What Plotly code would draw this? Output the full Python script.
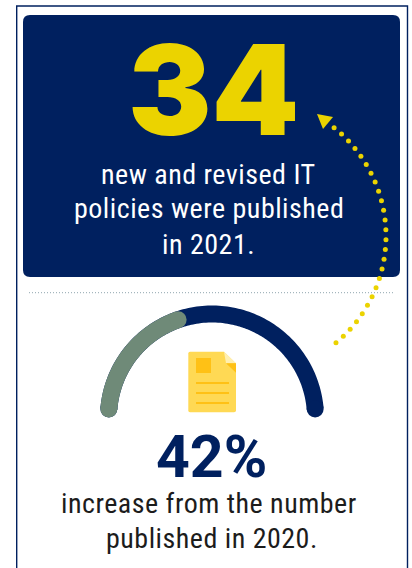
import numpy as np
import plotly.graph_objects as go

# Figures stated in the infographic
policies_2021 = 34
increase_pct = 42
headline_lines = ["new and revised IT", "policies were published", "in 2021."]
caption_lines = ["increase from the number", "published in 2020."]

NAVY = "#00205F"
SAGE = "#6F8A78"
GOLD = "#EBD300"
DOC = "#FFD954"
DOC_DARK = "#FFC115"
DOC_LIGHT = "#FFEFB0"
NARROW = "Roboto Condensed, Liberation Sans Narrow, Roboto"

fig = go.Figure()


def arc(cx, cy, r, a0, a1, n=120):
    t = np.radians(np.linspace(a0, a1, n))
    return cx + r * np.cos(t), cy - r * np.sin(t)


def stroke(x, y, color, width):
    # Thick line with round end caps
    fig.add_trace(go.Scatter(x=x, y=y, mode="lines", line=dict(color=color, width=width, simplify=False),
                             hoverinfo="skip"))
    fig.add_trace(go.Scatter(x=[x[0], x[-1]], y=[y[0], y[-1]], mode="markers",
                             marker=dict(color=color, size=width, line=dict(width=0)), hoverinfo="skip"))


# Gauge: the sweep runs over a half circle, caps included
GX, GY, GR, GW = 212, 417.5, 103.5, 17
cap = np.degrees(GW / 2 / GR)
start, end = 180 - cap, cap
stroke(*arc(GX, GY, GR, start, end), NAVY, GW)
stroke(*arc(GX, GY, GR, start, 180 - 180 * increase_pct / 100 + cap), SAGE, GW)

# Dotted arc leading to the headline number
dx, dy = arc(247, 235, 139, 50.2, -51.2, 26)
dy = 2 * 235.5 - dy
fig.add_trace(go.Scatter(x=dx[::-1], y=dy[::-1], mode="markers",
                         marker=dict(color=GOLD, size=5, line=dict(width=0)), hoverinfo="skip"))

shapes = [
    # Outer frame, open at the bottom
    dict(type="path", path="M16.7,568 L16.7,6 L407.5,6 L407.5,568", line=dict(color=NAVY, width=1.4), layer="below"),
    # Headline panel
    dict(type="path", path="M30,15 L393,15 Q400,15 400,22 L400,270 Q400,277 393,277 L30,277 Q23,277 23,270 L23,22 Q23,15 30,15 Z",
         fillcolor=NAVY, line=dict(width=0), layer="below"),
    # Separator
    dict(type="line", x0=29, x1=394, y0=292.7, y1=292.7, line=dict(color="#8FA6AE", width=1, dash="1px,2px"), layer="below"),
    # Arrow head
    dict(type="path", path="M317,114 L333,117 L323,129 Z", fillcolor=GOLD, line=dict(width=0)),
    # Document icon
    dict(type="path", path="M190,351.7 L224,351.7 L236,363.5 L236,410.5 Q236,412.3 234,412.3 L190,412.3 Q188.3,412.3 188.3,410.5 L188.3,353.5 Q188.3,351.7 190,351.7 Z",
         fillcolor=DOC, line=dict(width=0)),
    dict(type="path", path="M224,351.7 L236,363.3 L226,363.3 Z", fillcolor=DOC_LIGHT, line=dict(width=0)),
    dict(type="path", path="M226,363.3 L236,363.3 L236,372.7 Z", fillcolor=DOC_DARK, line=dict(width=0)),
    dict(type="rect", x0=196, x1=211, y0=358, y1=373, fillcolor=DOC_DARK, line=dict(width=0)),
]
for ly in (383, 393, 403):
    shapes.append(dict(type="rect", x0=196, x1=229, y0=ly - 1, y1=ly + 1, fillcolor=DOC_DARK, line=dict(width=0)))


def label(text, x, y, size, color, family=NARROW, weight=400, spacing=None):
    if spacing:
        text = f'<span style="letter-spacing:{spacing}px">{text}</span>'
    fig.add_annotation(x=x, y=y, text=text, showarrow=False, xanchor="center", yanchor="middle",
                       font=dict(size=size, color=color, family=family, weight=weight))


label(str(policies_2021), 213, 89, 125, GOLD, "Inter", 900)
for text, y in zip(headline_lines, (174, 208, 244)):
    label(text, 208.5, y, 28, "#FFFFFF", spacing=0.5)
label(f"{increase_pct}%", 211.5, 456, 59, NAVY, "Roboto", 700)
for text, x, y in zip(caption_lines, (208.5, 212), (503, 538)):
    label(text, x, y, 28, "#1C1C1C", spacing=0.5)

fig.update_layout(
    width=412, height=568, margin=dict(l=0, r=0, t=0, b=0),
    paper_bgcolor="white", plot_bgcolor="white", showlegend=False, shapes=shapes,
    xaxis=dict(range=[0, 412], visible=False, fixedrange=True),
    yaxis=dict(range=[568, 0], visible=False, fixedrange=True),
)
fig.write_html("out.html", config=dict(displayModeBar=False))
